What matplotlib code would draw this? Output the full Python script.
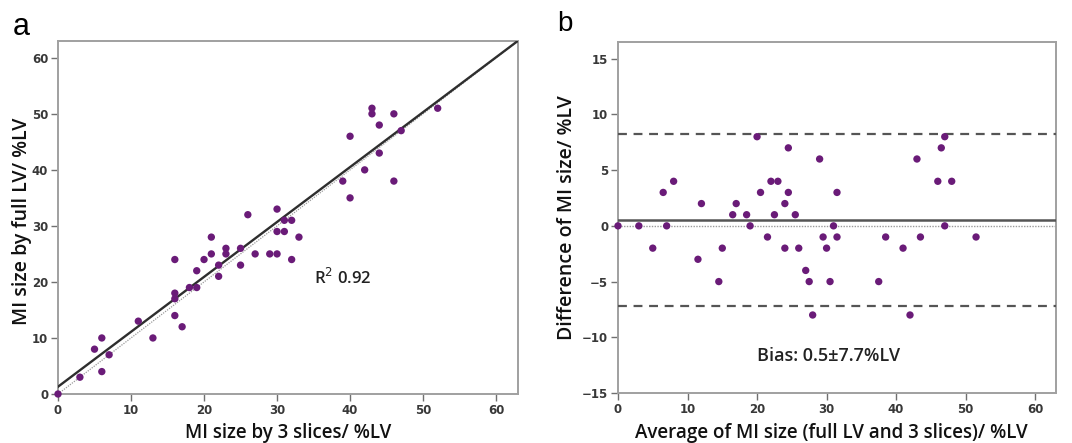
import matplotlib
matplotlib.use("Agg")
import matplotlib.pyplot as plt

# MI size measured by 3 slices vs full LV (%LV)
three_slices = [0, 3, 5, 6, 6, 7, 11, 13, 16, 16, 16, 16, 17, 18, 19, 19, 20, 21, 21,
                22, 22, 23, 23, 25, 25, 26, 27, 29, 30, 30, 30, 31, 31, 32, 32, 33,
                39, 40, 40, 42, 43, 43, 44, 44, 46, 46, 47, 52]
full_lv = [0, 3, 8, 10, 4, 7, 13, 10, 24, 18, 17, 14, 12, 19, 22, 19, 24, 28, 25,
           23, 21, 26, 25, 26, 23, 32, 25, 25, 33, 29, 25, 31, 29, 31, 24, 28,
           38, 46, 35, 40, 51, 50, 48, 43, 50, 38, 47, 51]

# Bland-Altman: average and difference of the two methods
ba_mean = [0, 3, 6.5, 8, 5, 7, 12, 11.5, 20, 17, 16.5, 15, 14.5, 18.5, 20.5, 19, 22,
           24.5, 23, 22.5, 21.5, 24.5, 24, 25.5, 24, 29, 26, 27, 31.5, 29.5, 27.5,
           31, 30, 31.5, 28, 30.5, 38.5, 43, 37.5, 41, 47, 46.5, 46, 43.5, 48, 42,
           47, 51.5]
ba_diff = [0, 0, 3, 4, -2, 0, 2, -3, 8, 2, 1, -2, -5, 1, 3, 0, 4, 7, 4, 1, -1, 3, 2,
           1, -2, 6, -2, -4, 3, -1, -5, 0, -2, -1, -8, -5, -1, 6, -5, -2, 8, 7, 4,
           -1, 4, -8, 0, -1]

fit_intercept = 1.3
fit_slope = 0.98
bias = 0.5
loa_upper = 8.2
loa_lower = -7.2

dot_color = "#6a1b78"
spine_color = "#a0a0a0"
tick_color = "#383838"
label_font = "Open Sans"
label_weight = 600

fig = plt.figure(figsize=(10.72, 4.43), dpi=100)
W, H = 1072, 443
ax1 = fig.add_axes([58 / W, (H - 394) / H, (518 - 58) / W, (394 - 41) / H])
ax2 = fig.add_axes([618 / W, (H - 393) / H, (1056 - 618) / W, (393 - 42) / H])

for ax in (ax1, ax2):
    for s in ax.spines.values():
        s.set_color(spine_color)
        s.set_linewidth(1.4)
    ax.tick_params(direction="out", length=5, width=1.0, color="#707070",
                   labelsize=8.5, labelcolor=tick_color, pad=2)

# Panel a: scatter with regression and identity line
ax1.set_xlim(0, 63)
ax1.set_ylim(0, 63)
ax1.set_xticks(range(0, 61, 10))
ax1.set_yticks(range(0, 61, 10))
xs = [0, 63]
ax1.plot(xs, xs, color="#9a9a9a", lw=0.9, ls=(0, (1, 1)), zorder=2)
ax1.plot(xs, [fit_intercept + fit_slope * x for x in xs], color="#2e2e2e",
         lw=1.7, zorder=3)
ax1.scatter(three_slices, full_lv, s=28, color=dot_color, edgecolors="none",
            zorder=4, clip_on=False)
ax1.text(35, 20.8, "R$^2$ 0.92", fontsize=12, family=label_font,
         fontweight=label_weight, va="center", ha="left", color="#222222")
ax1.set_xlabel("MI size by 3 slices/ %LV", fontsize=13.5, family=label_font,
               fontweight=label_weight, color="#111111")
ax1.set_ylabel("MI size by full LV/ %LV", fontsize=14, family=label_font,
               fontweight=label_weight, color="#111111")
ax1.xaxis.set_label_coords(0.5, -0.083)
ax1.yaxis.set_label_coords(-0.056, 0.49)

# Panel b: Bland-Altman plot
ax2.set_xlim(0, 63)
ax2.set_ylim(-15, 16.5)
ax2.set_xticks(range(0, 61, 10))
ax2.set_yticks([-15, -10, -5, 0, 5, 10, 15])
ax2.axhline(0, color="#9a9a9a", lw=1.0, ls=(0, (1, 1)), zorder=2)
ax2.axhline(bias, color="#555555", lw=1.8, zorder=3)
ax2.axhline(loa_upper, color="#555555", lw=1.6, ls=(0, (4, 3)), zorder=3)
ax2.axhline(loa_lower, color="#555555", lw=1.6, ls=(0, (4, 3)), zorder=3)
ax2.scatter(ba_mean, ba_diff, s=28, color=dot_color, edgecolors="none",
            zorder=4, clip_on=False)
ax2.text(30.3, -11.7, "Bias: 0.5\u00b17.7%LV", fontsize=13, family=label_font,
         fontweight=label_weight, va="center", ha="center", color="#222222")
ax2.set_xlabel("Average of MI size (full LV and 3 slices)/ %LV", fontsize=13.5,
               family=label_font, fontweight=label_weight, color="#111111")
ax2.set_ylabel("Difference of MI size/ %LV", fontsize=14, family=label_font,
               fontweight=label_weight, color="#111111")
ax2.xaxis.set_label_coords(0.486, -0.085)
ax2.yaxis.set_label_coords(-0.093, 0.5)

for ax in (ax1, ax2):
    for lab in ax.get_xticklabels() + ax.get_yticklabels():
        lab.set_fontweight("bold")

fig.text(13 / W, 1 - 35 / H, "a", fontsize=22, family="Liberation Sans",
         va="baseline", ha="left")
fig.text(557 / W, 1 - 31 / H, "b", fontsize=20, family="Liberation Sans",
         va="baseline", ha="left")

fig.savefig("out.png", dpi=100)
